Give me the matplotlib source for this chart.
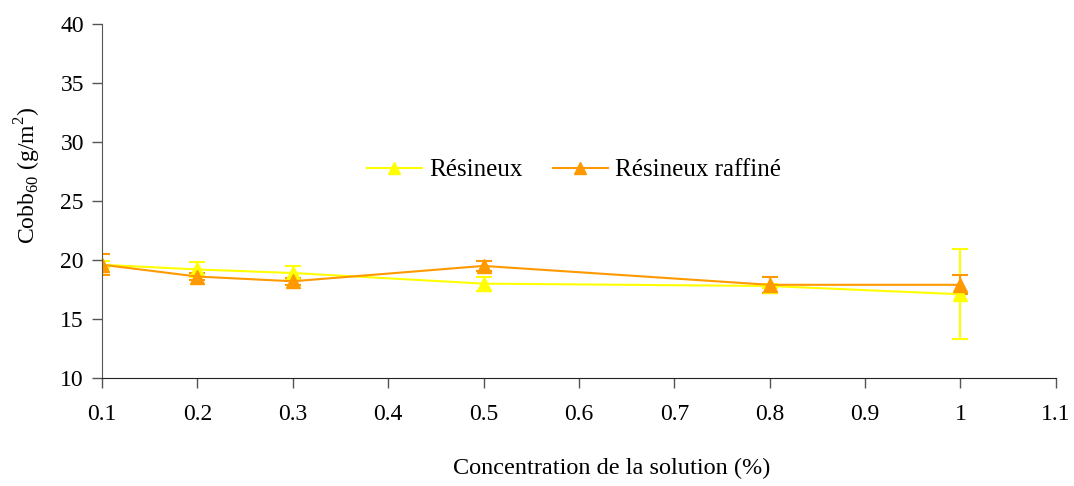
import numpy as np
import matplotlib.pyplot as plt

plt.rcParams['font.family'] = ['Liberation Serif', 'DejaVu Serif']
plt.rcParams['mathtext.fontset'] = 'custom'
plt.rcParams['mathtext.rm'] = 'Liberation Serif'

conc = [0.1, 0.2, 0.3, 0.5, 0.8, 1.0]
resineux = [19.6, 19.2, 18.9, 18.0, 17.8, 17.1]
resineux_err = [0.3, 0.6, 0.6, 0.6, 0.2, 3.8]
raffine = [19.6, 18.6, 18.2, 19.5, 17.9, 17.9]
raffine_err = [0.9, 0.3, 0.3, 0.4, 0.7, 0.8]

xticks = [0.1, 0.2, 0.3, 0.4, 0.5, 0.6, 0.7, 0.8, 0.9, 1.0, 1.1]
xticklabels = ['0.1', '0.2', '0.3', '0.4', '0.5', '0.6', '0.7', '0.8', '0.9', '1', '1.1']
yticks = [10, 15, 20, 25, 30, 35, 40]

fig = plt.figure(figsize=(10.74, 4.86), dpi=100)
ax = fig.add_axes([0.095, 0.222, 0.888, 0.729])

yellow = '#ffff00'
orange = '#ff9900'

e1 = ax.errorbar(conc, resineux, yerr=resineux_err, color=yellow, marker='^',
                 markersize=10, lw=1.5, capsize=6, capthick=1.5, elinewidth=1.5)
e2 = ax.errorbar(conc, raffine, yerr=raffine_err, color=orange, marker='^',
                 markersize=10, lw=1.5, capsize=6, capthick=1.5, elinewidth=1.5)

ax.set_xlim(0.1, 1.1)
ax.set_ylim(10, 40)
ax.set_xticks(xticks)
ax.set_xticklabels(xticklabels)
ax.set_yticks(yticks)
ax.tick_params(direction='out', length=7, width=1, labelsize=17, color='#555555', pad=6)
ax.tick_params(axis='x', pad=12)
for s in ['top', 'right']:
    ax.spines[s].set_visible(False)
ax.spines['left'].set_color('#555555')
ax.spines['bottom'].set_color('#222222')

ax.set_xlabel('Concentration de la solution (%)', fontsize=17.5)
ax.xaxis.set_label_coords(0.534, -0.254)
ax.xaxis.label.set_va('center')
ax.set_ylabel(r'Cobb$_{60}$ (g/m$^2$)', fontsize=17)
ax.yaxis.set_label_coords(-0.078, 0.573)
ax.yaxis.label.set_va('center')

ax.legend([e1.lines[0], e2.lines[0]], ['Résineux', 'Résineux raffiné'],
          loc='center', bbox_to_anchor=(0.495, 0.587), ncol=2, frameon=False,
          fontsize=18, handlelength=2.2, handletextpad=0.3, columnspacing=1.2,
          markerscale=0.9, numpoints=1)

fig.savefig('out.png', dpi=100)
